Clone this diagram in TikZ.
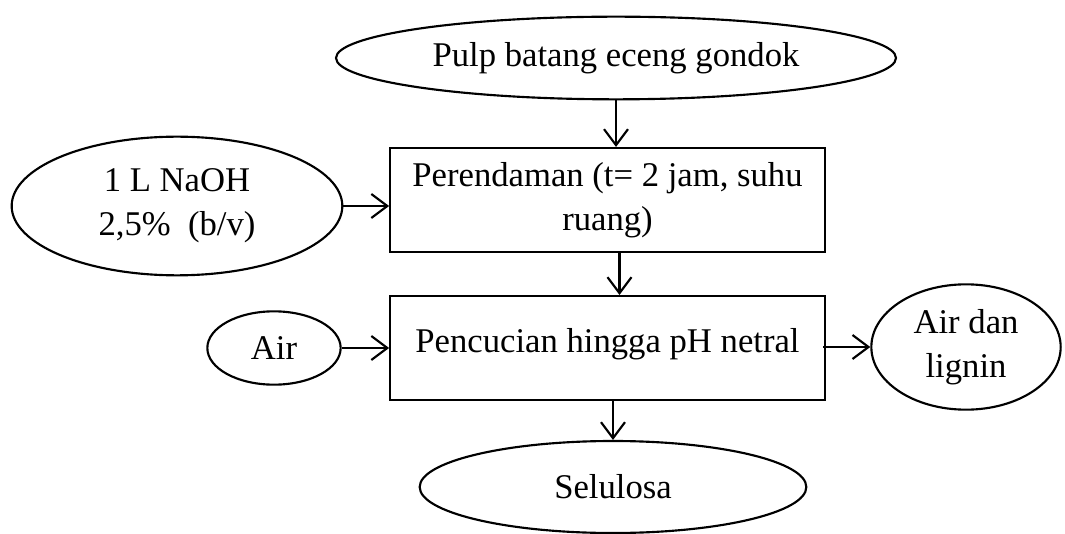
\documentclass[tikz,border=0pt]{standalone}
\usepackage{fontspec}
\setmainfont{Liberation Serif}
\usetikzlibrary{shapes.geometric,arrows.meta}
\tikzset{
  elps/.style={draw,ellipse,line width=0.8pt,inner sep=0pt,align=center},
  procbox/.style={draw,rectangle,line width=0.8pt,inner sep=0pt,align=center,
    minimum width=163pt,minimum height=39pt},
  arr/.style={-{Straight Barb[length=6pt,width=9pt,line width=0.8pt]},line width=0.8pt}
}
\begin{document}
\begin{tikzpicture}[x=0.375pt,y=-0.375pt,font=\fontsize{13}{16.5}\selectfont]
	\useasboundingbox (0,0) rectangle (1065,534);
	% nodes
	\node[elps,minimum width=210pt,minimum height=31pt] (pulp) at (616,58) {Pulp batang eceng gondok};
	\node[procbox] (rendam) at (607.5,200) {Perendaman (t= 2 jam, suhu\\ruang)};
	\node[elps,minimum width=124pt,minimum height=52pt] (naoh) at (177,206) {1 L NaOH\\2,5\%~ (b/v)};
	\node[procbox,text depth=6pt] (cuci) at (607.5,348) {Pencucian hingga pH netral};
	\node[elps,minimum width=50pt,minimum height=27.5pt] (air) at (274,348) {Air};
	\node[elps,minimum width=71pt,minimum height=47pt] (lignin) at (966,347) {Air dan\\lignin};
	\node[elps,minimum width=145pt,minimum height=34.5pt] (selulosa) at (613,487) {Selulosa};
	% arrows
	\draw[arr] (pulp.south) -- (pulp.south |- rendam.north);
	\draw[arr] (naoh.east) -- (naoh.east -| rendam.west);
	\draw[arr] ([xshift=4.5pt]rendam.south) -- ([xshift=4.5pt]cuci.north);
	\draw[arr] (air.east) -- (air.east -| cuci.west);
	\draw[arr] ([xshift=-1pt]lignin.west -| cuci.east) -- (lignin.west);
	\draw[arr] (selulosa.north |- cuci.south) -- (selulosa.north);
\end{tikzpicture}
\end{document}
